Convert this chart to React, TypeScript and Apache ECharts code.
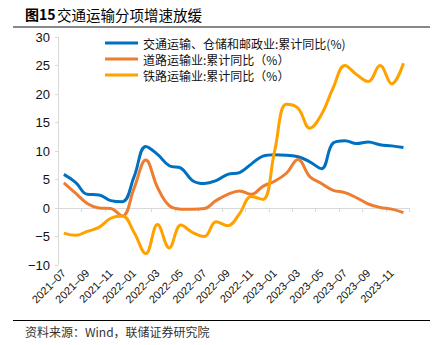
import React, { useEffect, useRef } from "react";
import * as echarts from "echarts";

const months: string[] = [
  "2021-07", "2021-08", "2021-09", "2021-10", "2021-11", "2021-12",
  "2022-01", "2022-02", "2022-03", "2022-04", "2022-05", "2022-06",
  "2022-07", "2022-08", "2022-09", "2022-10", "2022-11", "2022-12",
  "2023-01", "2023-02", "2023-03", "2023-04", "2023-05", "2023-06",
  "2023-07", "2023-08", "2023-09", "2023-10", "2023-11", "2023-12",
];

const transportAll: number[] = [
  5.9, 4.5, 2.4, 2.3, 1.3, 1.1, 5.5, 10.8, 9.4, 7.4, 7.0, 4.8,
  4.3, 4.8, 5.9, 6.2, 7.7, 9.1, 9.35, 9.25, 9.0, 8.1, 6.9, 11.4,
  11.8, 11.3, 11.6, 11.1, 10.9, 10.6,
];

const roadTransport: number[] = [
  4.4, 2.6, 0.8, 0.0, -0.1, -1.4, 3.5, 8.4, 3.6, 0.4, -0.2, -0.2,
  -0.1, 1.3, 2.4, 3.0, 2.4, 3.8, 4.7, 6.1, 8.5, 5.5, 4.3, 3.1,
  2.7, 1.8, 0.7, 0.1, -0.2, -0.8,
];

const railTransport: number[] = [
  -4.4, -4.8, -4.1, -3.4, -1.8, -1.4, -4.3, -8.0, -2.9, -7.0, -3.0, -4.3,
  -5.0, -2.4, -3.1, -1.0, 2.0, 1.5, 10.0, 18.2, 17.5, 14.0, 16.4, 21.1,
  25.0, 23.4, 22.2, 25.0, 21.8, 25.4,
];

const seriesNames: string[] = [
  "交通运输、仓储和邮政业:累计同比(%)",
  "道路运输业:累计同比（%）",
  "铁路运输业:累计同比（%）",
];

const colors: string[] = ["#0070C0", "#ED7D31", "#FFA200"];

export default function App() {
  const ref = useRef<HTMLDivElement>(null);

  useEffect(() => {
    if (!ref.current) return;
    const chart = echarts.init(ref.current, undefined, { renderer: "svg" });
    const axisGray = "#d9d9d9";
    const latin = "'Liberation Sans', Arial, sans-serif";
    const cjk = "'Noto Sans CJK SC', 'Liberation Sans', sans-serif";
    const dataSets = [transportAll, roadTransport, railTransport];

    chart.setOption({
      animation: false,
      backgroundColor: "#ffffff",
      grid: { left: 58, right: 36.7, top: 37, bottom: 80, containLabel: false },
      legend: {
        orient: "vertical",
        left: 100,
        top: 31,
        icon: "rect",
        itemWidth: 33,
        itemHeight: 3,
        itemGap: 2,
        textStyle: { fontSize: 12, lineHeight: 14, color: "#111", fontFamily: cjk },
        data: seriesNames,
      },
      xAxis: [
        {
          type: "category",
          data: months,
          boundaryGap: true,
          position: "bottom",
          axisLine: { show: false, onZero: false },
          axisTick: { show: false },
          splitLine: { show: false },
          axisLabel: {
            interval: 1,
            rotate: 45,
            fontSize: 11,
            color: "#111",
            fontFamily: latin,
            margin: 6,
            formatter: (v: string) => v.replace("-", "–"),
          },
        },
        {
          type: "category",
          data: months,
          boundaryGap: true,
          position: "top",
          axisLine: { show: true, onZero: true, lineStyle: { color: axisGray, width: 1 } },
          axisTick: { show: true, inside: true, interval: 1, length: 4, lineStyle: { color: axisGray } },
          axisLabel: { show: false },
          splitLine: { show: false },
        },
      ],
      yAxis: {
        type: "value",
        min: -10,
        max: 30,
        interval: 5,
        axisLine: { show: true, lineStyle: { color: axisGray } },
        axisTick: { show: true, length: 3, lineStyle: { color: axisGray } },
        splitLine: { show: false },
        axisLabel: {
          fontSize: 13,
          color: "#111",
          fontFamily: latin,
          margin: 8,
          formatter: (v: number) => (v < 0 ? "−" + Math.abs(v) : String(v)),
        },
      },
      series: seriesNames.map((name, i) => ({
        name,
        type: "line",
        xAxisIndex: 0,
        data: dataSets[i],
        smooth: 0.4,
        symbol: "none",
        lineStyle: { color: colors[i], width: 3 },
        itemStyle: { color: colors[i] },
        z: 2 + i,
      })),
      graphic: [
        {
          type: "text",
          x: 25,
          y: 14,
          style: {
            text: "图15",
            font: `bold 14px ${cjk}`,
            fill: "#000",
            textVerticalAlign: "middle",
          },
        },
        {
          type: "text",
          x: 57,
          y: 14,
          style: {
            text: "交通运输分项增速放缓",
            font: `14.5px ${cjk}`,
            fill: "#000",
            textVerticalAlign: "middle",
          },
        },
        {
          type: "line",
          shape: { x1: 13, y1: 27, x2: 430, y2: 27 },
          style: { stroke: "#888888", lineWidth: 2 },
        },
        {
          type: "line",
          shape: { x1: 13, y1: 320.5, x2: 430, y2: 320.5 },
          style: { stroke: "#000000", lineWidth: 1 },
        },
        {
          type: "text",
          x: 25,
          y: 331,
          style: {
            text: "资料来源：Wind，联储证券研究院",
            font: `12px ${cjk}`,
            fill: "#333",
            textVerticalAlign: "middle",
          },
        },
      ],
    });

    return () => chart.dispose();
  }, []);

  return (
    <div
      ref={ref}
      style={{ position: "fixed", left: 0, top: 0, width: 446, height: 345, background: "#fff" }}
    />
  );
}
